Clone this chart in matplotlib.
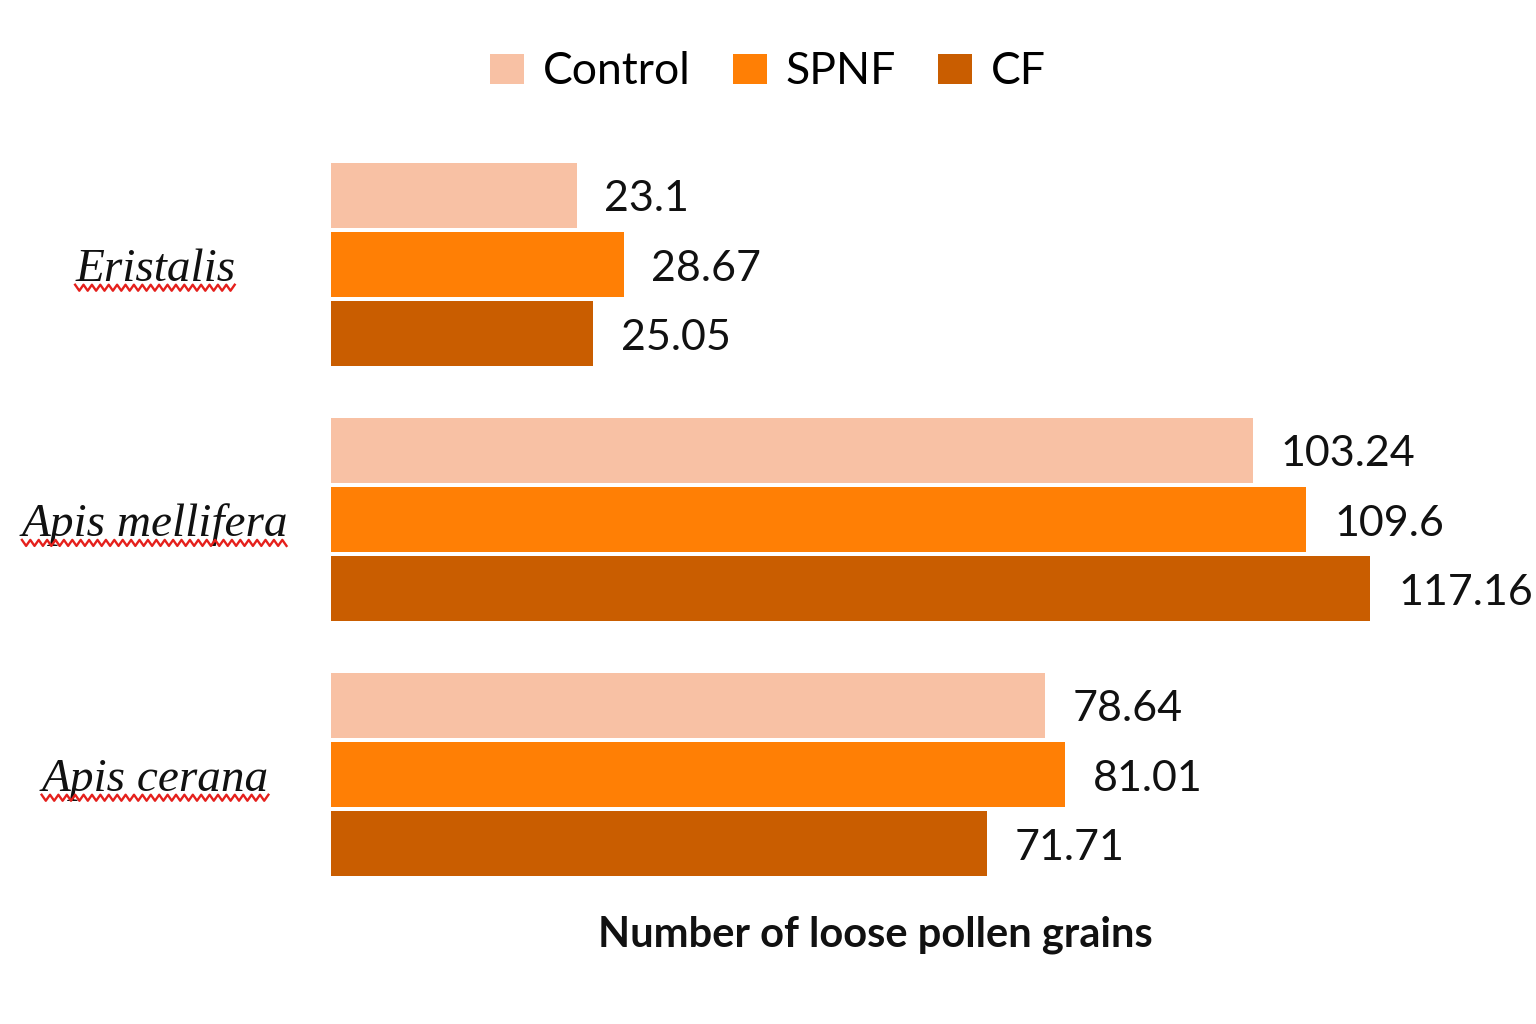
import numpy as np
import matplotlib
matplotlib.use("Agg")
import matplotlib.pyplot as plt
from matplotlib.lines import Line2D

plt.rcParams['font.family'] = ['Lato', 'DejaVu Sans']

# ---- data ----
categories = ['Eristalis', 'Apis mellifera', 'Apis cerana']
series = ['Control', 'SPNF', 'CF']
control = [23.1, 103.24, 78.64]
spnf = [28.67, 109.6, 81.01]
cf = [25.05, 117.16, 71.71]
axis_start = -6.0          # value axis origin used by the reference bars
x_label = 'Number of loose pollen grains'

colors = ['#F8C1A4', '#FF7F05', '#C95D00']
values = [control, spnf, cf]
offsets = [0.272, 0.0, -0.272]

fig = plt.figure(figsize=(15.36, 10.24), dpi=100)
ax = fig.add_axes([331 / 1536, 96.5 / 1024, (1420 - 331) / 1536, 0.7969])

y = np.arange(len(categories))[::-1].astype(float)
containers = []
for name, vals, col, off in zip(series, values, colors, offsets):
    v = np.array(vals)
    c = ax.barh(y + off, v - axis_start, left=axis_start, height=0.255,
                color=col, label=name)
    containers.append(c)
    anns = ax.bar_label(c, labels=[f"{x:g}" for x in vals], padding=20,
                        fontsize=31, color='#111111')
    for a in anns:
        a.xyann = (a.xyann[0], a.xyann[1] - 3)

ax.set_xlim(axis_start, 123.06)
ax.set_ylim(-0.6, 2.6)
for s in ax.spines.values():
    s.set_visible(False)
ax.tick_params(left=False, bottom=False, labelbottom=False)
ax.set_yticks(y)
ax.set_yticklabels(categories, fontfamily=['Liberation Serif'], fontstyle='italic',
                   fontsize=34, color='#111111')
ax.tick_params(axis='y', pad=123.1)
for lbl in ax.get_yticklabels():
    lbl.set_ha('center')

ax.set_xlabel(x_label, fontsize=30, fontweight='bold', labelpad=-9, color='#111111')

fig.legend(handles=containers, labels=series, loc='center',
           bbox_to_anchor=(0.5, 1 - 72 / 1024), ncol=3, frameon=False,
           prop={'family': 'Lato', 'size': 32},
           handlelength=0.77, handleheight=0.68, handletextpad=0.42,
           columnspacing=0.95)

# spell-check style red squiggle under the species names
fig.canvas.draw()
renderer = fig.canvas.get_renderer()
inv = fig.transFigure.inverted()
for lbl in ax.get_yticklabels():
    bb = lbl.get_window_extent(renderer)
    xs = np.arange(bb.x0, bb.x1, 4.2)
    yc = bb.y0 + 3
    ys = yc + np.where(np.arange(len(xs)) % 2 == 0, 3.0, -3.0)
    pts = inv.transform(np.column_stack([xs, ys]))
    fig.add_artist(Line2D(pts[:, 0], pts[:, 1], transform=fig.transFigure,
                          color='#E5201C', lw=1.7))

fig.savefig('out.png', dpi=100, facecolor='white')
